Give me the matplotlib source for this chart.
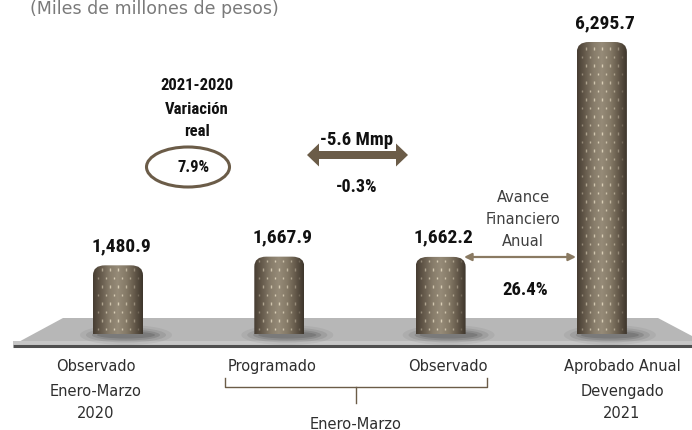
import numpy as np
import matplotlib
matplotlib.use("Agg")
import matplotlib.pyplot as plt
from matplotlib.path import Path
from matplotlib.patches import PathPatch, Polygon, Ellipse
from matplotlib.colors import LinearSegmentedColormap, to_rgb
from matplotlib import font_manager as fm

# ---------------- data ----------------
categories = ["Observado 2020", "Programado 2021", "Observado 2021", "Aprobado Anual 2021"]
values = [1480.9, 1667.9, 1662.2, 6295.7]
value_labels = ["1,480.9", "1,667.9", "1,662.2", "6,295.7"]
cat_lines = [["Observado", "Enero-Marzo", "2020"],
             ["Programado"],
             ["Observado"],
             ["Aprobado Anual", "Devengado", "2021"]]
title = "(Miles de millones de pesos)"
variacion_head = ["2021-2020", "Variación", "real"]
variacion_real = "7.9%"
diff_mmp = "-5.6 Mmp"
diff_pct = "-0.3%"
avance_lines = ["Avance", "Financiero", "Anual"]
avance_pct = "26.4%"
bracket_label = "Enero-Marzo"

W, H = 692, 431
available = {f.name for f in fm.fontManager.ttflist}
BOLD = [f for f in ["Roboto Condensed", "DejaVu Sans Condensed", "Liberation Sans Narrow",
                    "Liberation Sans"] if f in available] + ["DejaVu Sans"]
REG = ["DejaVu Sans"]
BROWN = "#6b5c48"

fig = plt.figure(figsize=(W / 100, H / 100), dpi=100)
bg = fig.add_axes([0, 0, 1, 1])
bg.set_xlim(0, W)
bg.set_ylim(0, H)
bg.axis("off")

ax = fig.add_axes([0, 0, 1, 1], zorder=5)
ax.patch.set_alpha(0)
ax.axis("off")

spacing = 161.3
x0px = 118
ax.set_xlim(-x0px / spacing, (W - x0px) / spacing)
base_from_bottom = H - 335
top_px = 335 - 43
ymin = -base_from_bottom / top_px * values[3]
ymax = (H - base_from_bottom) / top_px * values[3]
ax.set_ylim(ymin, ymax)

def Y(ytop):
    return H - ytop

# ---------------- floor ----------------
floor = Polygon([(63, Y(319)), (658, Y(319)), (692, Y(337)), (692, Y(346)), (13, Y(346))],
                closed=True, facecolor="#b7b7b7", edgecolor="none", zorder=1)
bg.add_patch(floor)
bg.add_patch(Polygon([(13, Y(342)), (692, Y(342)), (692, Y(346)), (13, Y(346))],
                     closed=True, facecolor="#c6c6c6", edgecolor="none", zorder=1.1))
bg.plot([13, 692], [Y(347), Y(347)], color="#4f4f4f", lw=2.2, zorder=1.2,
        solid_capstyle="butt")

# ---------------- bars ----------------
xpos = np.arange(len(values))
bars = ax.bar(xpos, values, width=50 / spacing, color="none", edgecolor="none")

cyl = LinearSegmentedColormap.from_list(
    "cyl", ["#463d32", "#675c4d", "#877c6a", "#968b78", "#857a67", "#64594a", "#3e362c"])

def rounded_top(xa, ya, xb, yb, rx, ry):
    verts = [(xa, ya), (xa, yb - ry), (xa, yb), (xa + rx, yb), (xb - rx, yb),
             (xb, yb), (xb, yb - ry), (xb, ya), (xa, ya)]
    codes = [Path.MOVETO, Path.LINETO, Path.CURVE3, Path.CURVE3, Path.LINETO,
             Path.CURVE3, Path.CURVE3, Path.LINETO, Path.CLOSEPOLY]
    return Path(verts, codes)

for rect in bars:
    bx, by = rect.get_x(), rect.get_y()
    bw, bh = rect.get_width(), rect.get_height()
    (pa, pb) = ax.transData.transform([(bx, by), (bx + bw, by + bh)])
    xa, ya = pa
    xb, yb = pb
    cx = (xa + xb) / 2
    for sw, sh, al in [(92, 20, 0.08), (80, 15, 0.12), (68, 11, 0.18), (58, 7, 0.22)]:
        bg.add_patch(Ellipse((cx + 8, ya - 1), sw, sh, facecolor="#3a3a3a",
                             edgecolor="none", alpha=al, zorder=2))
    patch = PathPatch(rounded_top(xa, ya, xb, yb, 12, 10), facecolor="none",
                      edgecolor="none", zorder=3)
    bg.add_patch(patch)
    im = bg.imshow(np.linspace(0, 1, 200)[None, :], cmap=cyl, aspect="auto",
                   extent=(xa, xb, ya, yb), zorder=3, interpolation="bilinear")
    im.set_clip_path(patch)
    pts, cols = [], []
    dot = np.array(to_rgb("#eadfc6"))
    row = 0
    yy = ya + 5
    while yy < yb - 4:
        off = 4 if row % 2 else 0
        xx = xa + 5 + off
        while xx < xb - 3:
            t = (xx - xa) / (xb - xa)
            a = max(0.0, 1 - abs(t - 0.45) * 2.0) ** 0.6
            pts.append((xx, yy))
            cols.append((*dot, 0.85 * a))
            xx += 8
        yy += 8.5
        row += 1
    pts = np.array(pts)
    sc = bg.scatter(pts[:, 0], pts[:, 1], s=3, marker="|", c=cols,
                    linewidths=1.0, zorder=4)
    sc.set_clip_path(patch)

for i, (v, lab) in enumerate(zip(values, value_labels)):
    ax.annotate(lab, (xpos[i], v), xytext=(3, 20), textcoords="offset pixels",
                ha="center", va="center", fontsize=14, fontweight="bold",
                family=BOLD, color="#111111")

# ---------------- title ----------------
bg.text(30, Y(0), title, ha="left", va="top", fontsize=12.5,
        family=REG, color="#7a7a7a")

# ---------------- variacion real ----------------
for s, yt in zip(variacion_head, [85, 110, 131]):
    bg.text(197, Y(yt), s, ha="center", va="center", fontsize=12,
            fontweight="bold", family=BOLD, color="#111111")
bg.add_patch(Ellipse((188, Y(168)), 83, 40, facecolor="none", edgecolor=BROWN,
                     lw=2.2, zorder=5))
bg.text(194, Y(167), variacion_real, ha="center", va="center", fontsize=12,
        fontweight="bold", family=BOLD, color="#111111")

# ---------------- big double arrow ----------------
cy = Y(156)
arrow = Polygon([(307, cy), (319, cy + 11.5), (319, cy + 4), (396, cy + 4),
                 (396, cy + 11.5), (408, cy), (396, cy - 11.5), (396, cy - 4),
                 (319, cy - 4), (319, cy - 11.5)], closed=True,
                facecolor=BROWN, edgecolor="none", zorder=5)
bg.add_patch(arrow)
bg.text(357, Y(140), diff_mmp, ha="center", va="center", fontsize=13.5,
        fontweight="bold", family=BOLD, color="#111111")
bg.text(357, Y(187), diff_pct, ha="center", va="center", fontsize=13,
        fontweight="bold", family=BOLD, color="#111111")

# ---------------- avance financiero ----------------
for s, yt in zip(avance_lines, [197, 220, 242]):
    bg.text(523, Y(yt), s, ha="center", va="center", fontsize=10.5,
            family=REG, color="#404040")
bg.annotate("", xy=(576, Y(258)), xytext=(464, Y(258)),
            arrowprops=dict(arrowstyle="<|-|>", color="#8a7a62", lw=1.6,
                            mutation_scale=11, shrinkA=0, shrinkB=0), zorder=5)
bg.text(525, Y(290), avance_pct, ha="center", va="center", fontsize=13.5,
        fontweight="bold", family=BOLD, color="#111111")

# ---------------- category labels ----------------
cat_x = [96, 272, 448, 622]
line_y = [367, 392, 414]
for cx, lines in zip(cat_x, cat_lines):
    for s, yt in zip(lines, line_y):
        bg.text(cx, Y(yt), s, ha="center", va="center", fontsize=10.5,
                family=REG, color="#2e2e2e")

bc = "#6b5c48"
bg.plot([225, 225, 487, 487], [Y(379), Y(388), Y(388), Y(379)], color=bc, lw=1.0)
bg.plot([356, 356], [Y(388), Y(404)], color=bc, lw=1.0)
bg.text(356, Y(417), bracket_label, ha="center", va="top", fontsize=10.5,
        family=REG, color="#2e2e2e")

fig.savefig("out.png", dpi=100)
